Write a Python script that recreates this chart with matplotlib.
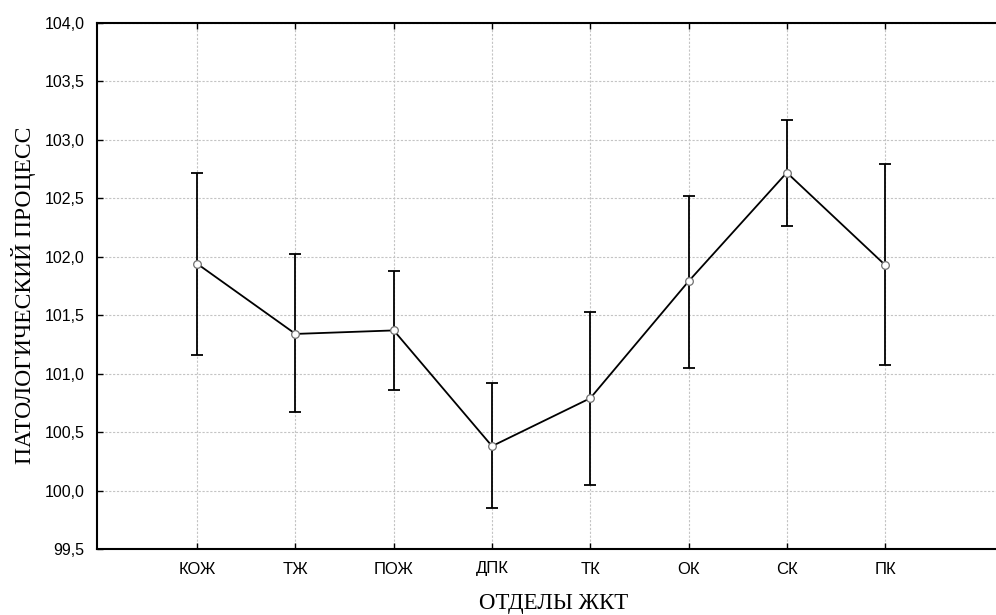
import matplotlib
matplotlib.use("Agg")
import matplotlib.pyplot as plt
from matplotlib.ticker import FuncFormatter, MultipleLocator

# отделы ЖКТ
sections = ["КОЖ", "ТЖ", "ПОЖ", "ДПК", "ТК", "ОК", "СК", "ПК"]
means = [101.94, 101.34, 101.37, 100.38, 100.79, 101.79, 102.72, 101.93]
upper = [102.72, 102.02, 101.88, 100.92, 101.53, 102.52, 103.17, 102.79]
lower = [101.16, 100.67, 100.86, 99.85, 100.05, 101.05, 102.26, 101.07]


def plot_chart():
    fig = plt.figure(figsize=(9.96, 6.15), dpi=100)
    ax = fig.add_axes([97 / 996, 1 - 549 / 615, 906 / 996, 526 / 615])

    x = list(range(1, len(sections) + 1))
    err_lo = [m - l for m, l in zip(means, lower)]
    err_hi = [u - m for m, u in zip(means, upper)]

    ax.errorbar(x, means, yerr=[err_lo, err_hi], fmt="none", ecolor="black",
                elinewidth=1.3, capsize=4, capthick=1.3, zorder=3)
    ax.plot(x, means, color="black", lw=1.3, marker="o", markersize=5.5,
            markerfacecolor="white", markeredgecolor="#707070",
            markeredgewidth=0.9, zorder=4)

    ax.set_xlim(-0.02, 9.2)
    ax.set_ylim(99.5, 104.0)
    ax.set_xticks(x)
    ax.set_xticklabels(sections, fontsize=12, family="Liberation Sans")
    ax.yaxis.set_major_locator(MultipleLocator(0.5))
    ax.yaxis.set_major_formatter(
        FuncFormatter(lambda v, p: f"{v:.1f}".replace(".", ",")))
    for lab in ax.get_yticklabels():
        lab.set_family("Liberation Sans")
        lab.set_fontsize(11.5)

    ax.tick_params(axis="both", direction="in", length=4, width=1,
                   top=True, right=False, color="black")
    ax.tick_params(axis="x", pad=9)
    ax.tick_params(axis="y", pad=9)

    ax.grid(True, color="#c4c4c4", linestyle=(0, (2, 1.5)), linewidth=0.8)
    ax.set_axisbelow(True)

    for s in ["left", "bottom", "top"]:
        ax.spines[s].set_linewidth(1.5)
    ax.spines["right"].set_visible(False)

    ax.set_xlabel("ОТДЕЛЫ ЖКТ", family="Liberation Serif", fontsize=16.5)
    ax.set_ylabel("ПАТОЛОГИЧЕСКИЙ ПРОЦЕСС", family="Liberation Serif",
                  fontsize=17)
    ax.xaxis.label.set_va("baseline")
    ax.xaxis.set_label_coords((554 - 97) / 906, -(609 - 549) / 526)
    ax.yaxis.set_label_coords(-(97 - 36) / 906, (549 - 295) / 526)

    fig.savefig("out.png", dpi=100)


if __name__ == "__main__":
    plot_chart()
